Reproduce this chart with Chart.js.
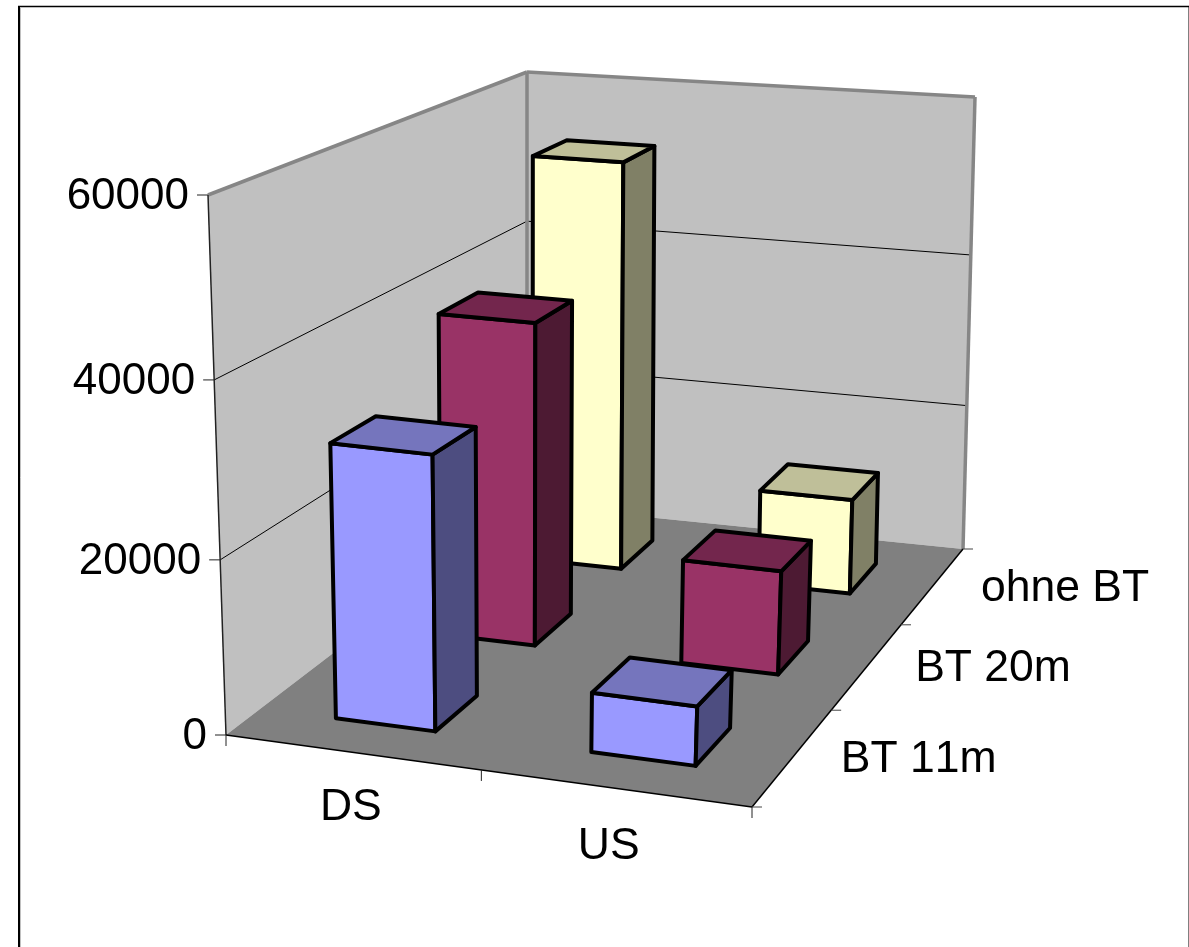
<!DOCTYPE html>
<html>
<head>
<meta charset="utf-8">
<title>DS / US</title>
<script src="https://cdn.jsdelivr.net/npm/chart.js@4/dist/chart.umd.min.js"></script>
<style>
  html, body { margin: 0; padding: 0; background: #fff; overflow: hidden; }
  canvas { display: block; }
</style>
</head>
<body>
<canvas id="myChart" width="1189" height="947"></canvas>
<script>
var categories = ['DS', 'US'];
var seriesNames = ['BT 11m', 'BT 20m', 'ohne BT'];
var bt11 = [31700, 6900];
var bt20 = [39500, 12800];
var ohneBt = [53000, 12500];
var yTicks = [0, 20000, 40000, 60000];

var frontColors = ['#9999ff', '#993366', '#ffffcc'];
var topColors = ['#7575bd', '#73264d', '#bfbf99'];
var sideColors = ['#4d4d80', '#4d1a33', '#808066'];

// floor and ceiling of the 3D box on the page (front-left, front-right, back-right, back-left)
var floorQuad = [[226, 735], [752, 807], [963, 549], [527, 505]];
var roofQuad = [[208, 195], [775, 242], [975, 97], [527, 72]];
var roofWeight = 0.96;

// unit square to quad
function squareToQuad(q) {
    var dx1 = q[1][0] - q[2][0], dx2 = q[3][0] - q[2][0], sx = q[0][0] - q[1][0] + q[2][0] - q[3][0];
    var dy1 = q[1][1] - q[2][1], dy2 = q[3][1] - q[2][1], sy = q[0][1] - q[1][1] + q[2][1] - q[3][1];
    var den = dx1 * dy2 - dx2 * dy1;
    var g = (sx * dy2 - dx2 * sy) / den, h = (dx1 * sy - sx * dy1) / den;
    return [
        [q[1][0] - q[0][0] + g * q[1][0], q[3][0] - q[0][0] + h * q[3][0], q[0][0]],
        [q[1][1] - q[0][1] + g * q[1][1], q[3][1] - q[0][1] + h * q[3][1], q[0][1]],
        [g, h, 1]
    ];
}
var floorH = squareToQuad(floorQuad);
var roofH = squareToQuad(roofQuad);

function project(u, v, w) {
    // small nudges so the rows, columns and grid land where the picture has them
    u = u + u * (1 - u) * (0.012 + 0.1 * w * (1 - w));
    v = v - 0.065 * w * v * (1 - v);
    w = w - 0.045 * w * (1 - w);
    var p = [0, 1, 2].map(function (i) {
        var a = floorH[i][0] * u + floorH[i][1] * w + floorH[i][2];
        var b = roofH[i][0] * u + roofH[i][1] * w + roofH[i][2];
        return (1 - v) * a + v * roofWeight * b;
    });
    return [p[0] / p[2], p[1] / p[2]];
}

function poly(ctx, pts, fill, stroke, lw) {
    ctx.beginPath();
    pts.forEach(function (p, i) { if (i) ctx.lineTo(p[0], p[1]); else ctx.moveTo(p[0], p[1]); });
    ctx.closePath();
    if (fill) { ctx.fillStyle = fill; ctx.fill(); }
    if (stroke) { ctx.strokeStyle = stroke; ctx.lineWidth = lw; ctx.stroke(); }
}
function line(ctx, a, b, color, lw) {
    ctx.beginPath();
    ctx.moveTo(a[0], a[1]);
    ctx.lineTo(b[0], b[1]);
    ctx.strokeStyle = color;
    ctx.lineWidth = lw;
    ctx.stroke();
}

var box3d = {
    id: 'box3d',
    beforeDatasetsDraw: function (chart) {
        var ctx = chart.ctx, xs = chart.scales.x, ys = chart.scales.y, zs = chart.scales.z;
        function yFrac(val) { return (ys.bottom - ys.getPixelForValue(val)) / ys.height; }
        ctx.save();
        ctx.lineJoin = 'round';

        // outer frame
        ctx.fillStyle = '#fff';
        ctx.fillRect(0, 0, chart.width, chart.height);
        line(ctx, [1188.5, 7], [1188.5, chart.height], '#808080', 1);
        line(ctx, [20.5, 8], [20.5, chart.height], '#c0c0c0', 1);
        line(ctx, [19, 6.5], [19, chart.height], '#000', 2);
        line(ctx, [18, 6.5], [1189, 6.5], '#000', 1.5);

        // walls and floor
        poly(ctx, [project(0, 0, 0), project(0, 1, 0), project(0, 1, 1), project(0, 0, 1)], '#c0c0c0');
        poly(ctx, [project(0, 0, 1), project(0, 1, 1), project(1, 1, 1), project(1, 0, 1)], '#c0c0c0');
        poly(ctx, [project(0, 0, 0), project(1, 0, 0), project(1, 0, 1), project(0, 0, 1)], '#808080');

        // grid
        ys.ticks.forEach(function (t) {
            var v = yFrac(t.value);
            if (v > 0 && v < 1) {
                line(ctx, project(0, v, 0), project(0, v, 1), '#000', 1);
                line(ctx, project(0, v, 1), project(1, v, 1), '#000', 1);
            }
        });
        line(ctx, project(0, 1, 0), project(0, 1, 1), '#868686', 3.5);
        line(ctx, project(0, 1, 1), project(1, 1, 1), '#868686', 3.5);
        line(ctx, project(0, 0, 1), project(0, 1, 1), '#868686', 3.5);
        line(ctx, project(1, 0, 1), project(1, 1, 1), '#868686', 3.5);
        line(ctx, project(0, 0, 0), project(0, 1, 0), '#222', 1.5);
        line(ctx, project(0, 0, 0), project(1, 0, 0), '#000', 1.5);
        line(ctx, project(1, 0, 0), project(1, 0, 1), '#000', 1.5);

        // ticks
        ys.ticks.forEach(function (t) {
            var p = project(0, yFrac(t.value), 0);
            line(ctx, [p[0] - 11, p[1]], p, '#222', 1);
        });
        [0, 0.5, 1].forEach(function (u) {
            var p = project(u, 0, 0);
            line(ctx, p, [p[0], p[1] + 11], '#222', 1);
        });
        [0, 1 / 3, 2 / 3, 1].forEach(function (w) {
            var p = project(1, 0, w);
            line(ctx, p, [p[0] + 10, p[1]], '#444', 1);
        });

        // bars, back row first
        for (var ds = chart.data.datasets.length - 1; ds >= 0; ds--) {
            var meta = chart.getDatasetMeta(ds);
            var zc = (zs.getPixelForValue(ds) - zs.left) / zs.width;
            var zh = 0.4 / seriesNames.length / 2;
            meta.data.forEach(function (bar) {
                var uc = (bar.x - xs.left) / xs.width;
                var uh = bar.width / 2 / xs.width;
                var v = (ys.bottom - bar.y) / ys.height;
                var a = uc - uh, b = uc + uh, f = zc - zh, k = zc + zh;
                var front = [project(a, 0, f), project(b, 0, f), project(b, v, f), project(a, v, f)];
                var side = [project(b, 0, f), project(b, 0, k), project(b, v, k), project(b, v, f)];
                var top = [project(a, v, f), project(b, v, f), project(b, v, k), project(a, v, k)];
                poly(ctx, front, frontColors[ds], '#000', 4);
                poly(ctx, side, sideColors[ds], '#000', 4);
                poly(ctx, top, topColors[ds], '#000', 4);
            });
        }

        // labels
        ctx.fillStyle = '#000';
        ctx.fontKerning = 'none';
        ctx.textBaseline = 'middle';
        ctx.textAlign = 'right';
        ctx.font = '44px "Liberation Sans", Arial, sans-serif';
        ys.ticks.forEach(function (t) {
            var p = project(0, yFrac(t.value), 0);
            ctx.fillText(String(t.value), p[0] - 19, p[1] + 2);
        });
        ctx.font = '44.5px "Liberation Sans", Arial, sans-serif';
        ctx.textAlign = 'center';
        xs.getLabels().forEach(function (name, i) {
            var p = project((xs.getPixelForValue(i) - xs.left) / xs.width, 0, 0);
            ctx.fillText(name, p[0] - 1 - 5 * i, p[1] + 56 + 3 * i);
        });
        ctx.textAlign = 'left';
        zs.getLabels().forEach(function (name, i) {
            var p = project(1, 0, (zs.getPixelForValue(i) - zs.left) / zs.width);
            ctx.fillText(name, p[0] + 48, p[1] + 3);
        });
        ctx.restore();
        return false;
    }
};

var ctx = document.getElementById('myChart').getContext('2d');
var chart = new Chart(ctx, {
    type: 'bar',
    data: {
        labels: categories,
        datasets: [
            { label: seriesNames[0], data: bt11, backgroundColor: frontColors[0] },
            { label: seriesNames[1], data: bt20, backgroundColor: frontColors[1] },
            { label: seriesNames[2], data: ohneBt, backgroundColor: frontColors[2] }
        ]
    },
    options: {
        responsive: false,
        animation: false,
        events: [],
        grouped: false,
        categoryPercentage: 1,
        barPercentage: 0.395,
        layout: { padding: 0 },
        plugins: { legend: { display: false }, tooltip: { enabled: false } },
        scales: {
            x: { display: false, offset: true },
            y: {
                display: false,
                min: yTicks[0],
                max: yTicks[yTicks.length - 1],
                ticks: { stepSize: yTicks[1] - yTicks[0] }
            },
            z: { type: 'category', axis: 'x', labels: seriesNames, offset: true, display: false }
        }
    },
    plugins: [box3d]
});
</script>
</body>
</html>
